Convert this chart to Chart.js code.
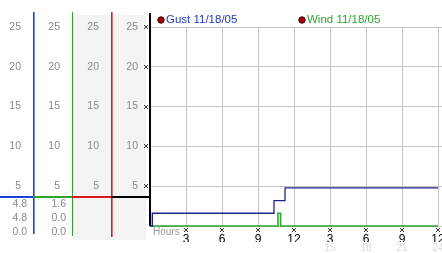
<!DOCTYPE html>
<html>
<head>
<meta charset="utf-8">
<script src="https://cdn.jsdelivr.net/npm/chart.js@4.4.0/dist/chart.umd.min.js"></script>
<style>
  html, body { margin: 0; padding: 0; background: #fff; }
  canvas { display: block; }
</style>
</head>
<body>
<canvas id="c" width="442" height="253"></canvas>
<script>
// data
const gustHours  = [0,   0.04, 0.2, 10.33, 11.25, 24];
const gustValues = [1.6, 0,    1.6, 3.2,   4.8,   4.8];
const windHours  = [0, 10.66, 10.88, 24];
const windValues = [0, 1.6,   0,     0];

const speedTicks  = [0, 5, 10, 15, 20, 25];
const hourTicks   = [3, 6, 9, 12, 15, 18, 21, 24];
const hourLabels  = ['3', '6', '9', '12', '3', '6', '9', '12'];
const clockLabels = ['', '', '', '', '15', '18', '21', '24'];

const gustStats = ['4.8', '4.8', '0.0'];
const windStats = ['1.6', '0.0', '0.0'];

const GUST = '#1f2390';
const GUST_COL = '#1a44d8';
const GUST_TXT = '#2438b4';
const WIND = '#2ea42e';
const RED = '#d02020';
const FONT = '"Liberation Sans", Arial, sans-serif';

function pts(xs, ys) { return xs.map((x, i) => ({ x: x, y: ys[i] })); }

// y axis for one column of the left panel
function colAxis(weight, width, showGrid) {
  return {
    type: 'linear', position: 'left', weight: weight,
    min: 0, max: 25,
    afterBuildTicks: s => { s.ticks = speedTicks.map(v => ({ value: v })); },
    afterFit: s => { s.width = width; },
    grid: showGrid ? { color: '#c4c4c4', drawTicks: false, lineWidth: 1 } : { display: false, drawTicks: false },
    border: { display: false },
    ticks: {
      color: '#8a8a8a', padding: 12, font: { family: FONT, size: 10.5 },
      callback: v => (v === 0 ? '' : String(v))
    }
  };
}

function glyph(ctx, x, y) {
  ctx.fillStyle = '#333';
  ctx.fillRect(x - 2, y - 2, 1, 1); ctx.fillRect(x + 1, y - 2, 1, 1);
  ctx.fillRect(x - 1, y - 1, 2, 2);
  ctx.fillRect(x - 2, y + 1, 1, 1); ctx.fillRect(x + 1, y + 1, 1, 1);
}

function vline(ctx, x, y0, y1, col, w) {
  ctx.fillStyle = col;
  ctx.fillRect(x, y0, w, y1 - y0);
}

const panel = {
  id: 'panel',
  beforeDraw(chart) {
    const ctx = chart.ctx;
    const s = chart.scales;
    ctx.save();
    ctx.fillStyle = '#fff';
    ctx.fillRect(0, 0, chart.width, chart.height);
    ctx.fillStyle = '#f4f4f4';
    ctx.fillRect(Math.round(s.yB.right) + 1, 15, 73, 225);
    ctx.restore();
  },
  afterDraw(chart) {
    const ctx = chart.ctx;
    const s = chart.scales;
    const area = chart.chartArea;
    ctx.save();

    // column lines
    vline(ctx, Math.round(s.yA.right), 12, 234, GUST_COL, 1.6);
    vline(ctx, Math.round(s.yB.right), 12, 236, WIND, 1);
    vline(ctx, Math.round(s.yC.right), 12, 237, RED, 1.6);
    ctx.fillStyle = '#000';
    ctx.fillRect(area.left - 1, 13, 2, area.bottom - 13);

    // separators
    const seps = [[0, s.yA.right, GUST_COL], [s.yA.right, s.yB.right, WIND],
                  [s.yB.right, s.yC.right, '#d81818'], [s.yC.right, area.left, '#000']];
    seps.forEach(([a, b, col]) => { ctx.fillStyle = col; ctx.fillRect(a, 196, b - a, 2); });

    // stats
    ctx.font = '10.5px ' + FONT;
    ctx.fillStyle = '#8a8a8a';
    ctx.textAlign = 'right';
    ctx.textBaseline = 'middle';
    [204.5, 218.5, 232.5].forEach((y, i) => {
      ctx.fillText(gustStats[i], s.yA.right - 6, y);
      ctx.fillText(windStats[i], s.yB.right - 6, y);
    });

    // tick glyphs
    speedTicks.slice(1).forEach(v => glyph(ctx, area.left - 4, Math.round(s.y.getPixelForValue(v))));
    hourTicks.forEach(v => glyph(ctx, Math.round(s.x.getPixelForValue(v)), 230));

    // hours caption
    ctx.textAlign = 'left';
    ctx.fillStyle = '#9a9a9a';
    ctx.font = '10px ' + FONT;
    ctx.fillText('Hours', area.left + 3, 232);

    // legend
    const lx = [area.left + 11, area.left + 152];
    const lc = [GUST_TXT, WIND];
    chart.data.datasets.forEach((ds, i) => {
      ctx.beginPath();
      ctx.arc(lx[i], 20, 3.2, 0, Math.PI * 2);
      ctx.fillStyle = '#a80000';
      ctx.fill();
      ctx.lineWidth = 1;
      ctx.strokeStyle = '#300';
      ctx.stroke();
      ctx.fillStyle = lc[i];
      ctx.font = '11.5px ' + FONT;
      ctx.fillText(ds.label, lx[i] + 5, 20);
    });
    ctx.restore();
  }
};

new Chart(document.getElementById('c'), {
  type: 'line',
  data: {
    datasets: [
      { label: 'Gust 11/18/05', data: pts(gustHours, gustValues), borderColor: GUST,
        borderWidth: 1.3, stepped: 'before', pointRadius: 0, clip: false },
      { label: 'Wind 11/18/05', data: pts(windHours, windValues), borderColor: WIND,
        borderWidth: 1.6, stepped: 'before', pointRadius: 0, clip: false }
    ]
  },
  options: {
    responsive: false,
    devicePixelRatio: 1,
    animation: false,
    layout: { padding: { top: 27, left: 0, right: 0, bottom: 0 } },
    plugins: { legend: { display: false }, tooltip: { enabled: false } },
    scales: {
      x: {
        type: 'linear', position: 'bottom', weight: 0,
        min: 0, max: 24.33,
        afterBuildTicks: s => { s.ticks = hourTicks.map(v => ({ value: v })); },
        afterFit: s => { s.height = 16; s.paddingLeft = 0; s.paddingRight = 0; },
        grid: { color: '#c4c4c4', drawTicks: false },
        border: { display: false },
        ticks: {
          color: '#000', padding: 6, maxRotation: 0, autoSkip: false,
          font: { family: FONT, size: 12 },
          callback: (v, i) => hourLabels[i]
        }
      },
      x2: {
        type: 'linear', position: 'bottom', weight: 1,
        min: 0, max: 24.33,
        afterBuildTicks: s => { s.ticks = hourTicks.map(v => ({ value: v })); },
        afterFit: s => { s.height = 11; s.paddingLeft = 0; s.paddingRight = 0; },
        grid: { display: false, drawTicks: false },
        border: { display: false },
        ticks: {
          color: '#dcdcdc', padding: 0, maxRotation: 0, autoSkip: false,
          font: { family: FONT, size: 10 },
          callback: (v, i) => clockLabels[i]
        }
      },
      yA: colAxis(3, 33, false),
      yB: colAxis(2, 39, false),
      yC: colAxis(1, 39, false),
      y: colAxis(0, 39, true)
    }
  },
  plugins: [panel]
});
</script>
</body>
</html>
